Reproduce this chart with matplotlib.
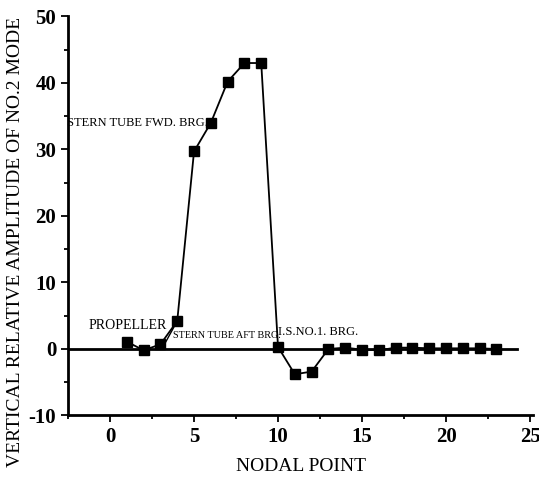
import matplotlib
matplotlib.use("Agg")
import matplotlib.pyplot as plt
from matplotlib.ticker import MultipleLocator

nodes = [1, 2, 3, 4, 5, 6, 7, 8, 9, 10, 11, 12, 13, 14, 15, 16, 17, 18, 19, 20, 21, 22, 23]
amplitude = [1.1, -0.2, 0.7, 4.2, 29.7, 34.0, 40.2, 43.0, 43.0, 0.3, -3.8, -3.4, 0.0,
             0.2, -0.1, -0.2, 0.2, 0.2, 0.1, 0.1, 0.1, 0.1, 0.0]
zero_line_x = [-2.5, 24.2]
zero_line_y = [0, 0]

plt.rcParams['font.family'] = ['Liberation Serif', 'DejaVu Serif']
plt.rcParams['axes.unicode_minus'] = False

fig = plt.figure(figsize=(5.39, 4.79), dpi=100)
ax = fig.add_axes([0.1262, 0.1326, 0.8634, 0.833])

ax.plot(zero_line_x, zero_line_y, color='black', lw=2.0, zorder=2)
ax.plot(nodes, amplitude, color='black', lw=1.3, marker='s', markersize=6.5, zorder=3)

ax.set_xlim(-2.5, 25.2)
ax.set_ylim(-10, 50)
ax.xaxis.set_major_locator(MultipleLocator(5))
ax.xaxis.set_minor_locator(MultipleLocator(2.5))
ax.yaxis.set_major_locator(MultipleLocator(10))
ax.yaxis.set_minor_locator(MultipleLocator(5))

for s in ['top', 'right']:
    ax.spines[s].set_visible(False)
for s in ['left', 'bottom']:
    ax.spines[s].set_linewidth(2.0)

ax.tick_params(axis='both', which='major', direction='out', length=5, width=1.3, labelsize=15)
ax.tick_params(axis='both', which='minor', direction='out', length=3, width=1.3)
for lbl in ax.get_xticklabels() + ax.get_yticklabels():
    lbl.set_fontweight('bold')

ax.set_xlabel('NODAL POINT', fontsize=14, labelpad=8)
ax.set_ylabel('VERTICAL RELATIVE AMPLITUDE OF NO.2 MODE', fontsize=14)
ax.yaxis.set_label_coords(-0.095, 0.435)

ax.text(-1.3, 3.6, 'PROPELLER', fontsize=10, ha='left', va='center')
ax.text(3.75, 2.1, 'STERN TUBE AFT BRG.', fontsize=7.3, ha='left', va='center')
ax.plot([3.15, 3.87], [0.3, 3.6], color='black', lw=1.0)
ax.text(10.0, 2.5, 'I.S.NO.1. BRG.', fontsize=9, ha='left', va='center')
ax.text(5.8, 34.0, 'STERN TUBE FWD. BRG.', fontsize=9, ha='right', va='center')

fig.savefig('out.png', dpi=100)
